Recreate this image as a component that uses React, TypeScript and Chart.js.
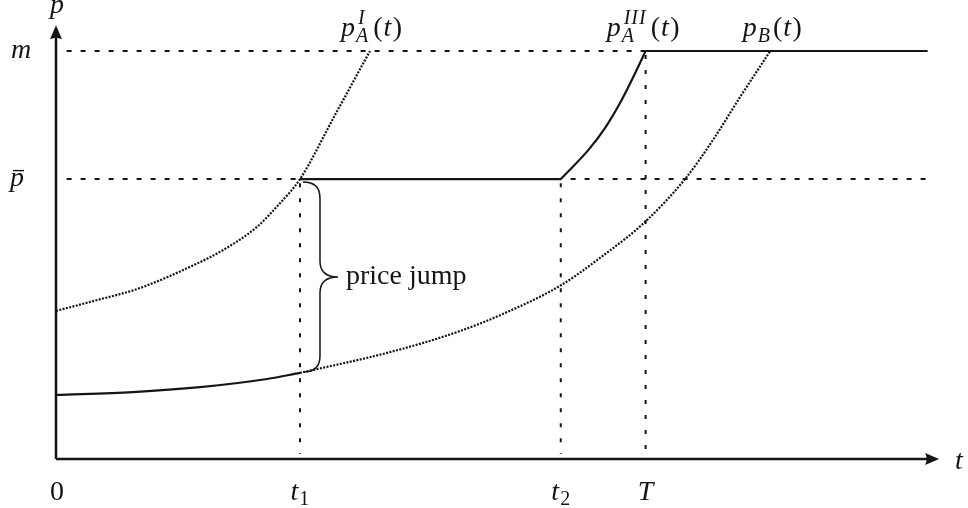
import React, { useEffect, useRef } from "react";
import { Chart, registerables } from "chart.js";

Chart.register(...registerables);

// Key abscissae / ordinates (t in model units, p normalized so that m = 1)
const T1 = 2.76;
const T2 = 5.71;
const T_END = 6.67;
const M_LEVEL = 1.0;
const P_BAR = 0.686;
const T_AXIS_MAX = 10;
const P_AXIS_MAX = 1.1;
const DASH_START = 0.12;
const DASH_END = 9.86;
const X_ARROW = 9.99;
const Y_ARROW = 1.063;

// p_A^I(t) (dotted)
const pAI_t = [0, 0.385, 0.95, 1.516, 1.889, 2.274, 2.534, 2.76, 3.156, 3.552];
const pAI_v = [0.363, 0.385, 0.419, 0.471, 0.512, 0.569, 0.627, 0.686, 0.843, 1.0];

// p_B(t) (dotted)
const pB_t = [2.76, 3.778, 4.536, 5.102, 5.713, 6.154, 6.663, 7.115, 7.432, 7.738, 8.08];
const pB_v = [0.211, 0.262, 0.311, 0.36, 0.426, 0.493, 0.581, 0.686, 0.782, 0.887, 1.0];

// equilibrium price path (solid): lower part before t1
const low_t = [0, 0.871, 1.629, 2.387, 2.76];
const low_v = [0.157, 0.164, 0.176, 0.196, 0.211];

// p_A^III(t) segment between t2 and T (solid)
const pA3_t = [5.71, 6.021, 6.21, 6.399, 6.55, 6.67];
const pA3_v = [0.686, 0.757, 0.811, 0.88, 0.945, 1.0];

const tickLabels = ["0", "t1", "t2", "T"];
const tickValues = [0, T1, T2, T_END];

const pts = (ts: number[], vs: number[]) => ts.map((t, i) => ({ x: t, y: vs[i] }));

const INK = "#151515";
const SERIF = '"Liberation Serif", serif';
const MAIN = 28;
const SCRIPT = 20;

type Part = { s: string; it?: boolean; size?: number; dy?: number; gap?: number; stack?: { sup?: string; sub?: string } };

function measureParts(ctx: CanvasRenderingContext2D, parts: Part[]) {
  let w = 0;
  for (const p of parts) {
    if (p.stack) {
      ctx.font = `italic ${SCRIPT}px ${SERIF}`;
      const a = p.stack.sup ? ctx.measureText(p.stack.sup).width + 2 : 0;
      const b = p.stack.sub ? ctx.measureText(p.stack.sub).width : 0;
      w += Math.max(a, b) + (p.gap || 0);
    } else {
      ctx.font = `${p.it ? "italic " : ""}${p.size || MAIN}px ${SERIF}`;
      w += ctx.measureText(p.s).width + (p.gap || 0);
    }
  }
  return w;
}

function drawParts(ctx: CanvasRenderingContext2D, parts: Part[], x: number, y: number, align: "left" | "center") {
  let cx = align === "center" ? x - measureParts(ctx, parts) / 2 : x;
  ctx.textAlign = "left";
  ctx.textBaseline = "alphabetic";
  ctx.fillStyle = INK;
  for (const p of parts) {
    if (p.stack) {
      ctx.font = `italic ${SCRIPT}px ${SERIF}`;
      (ctx as any).letterSpacing = "1px";
      let w = 0;
      if (p.stack.sup) {
        ctx.fillText(p.stack.sup, cx + 2, y - 12);
        w = Math.max(w, ctx.measureText(p.stack.sup).width + 2);
      }
      if (p.stack.sub) {
        ctx.fillText(p.stack.sub, cx, y + 6);
        w = Math.max(w, ctx.measureText(p.stack.sub).width);
      }
      (ctx as any).letterSpacing = "0px";
      cx += w + (p.gap || 0);
    } else {
      ctx.font = `${p.it ? "italic " : ""}${p.size || MAIN}px ${SERIF}`;
      ctx.fillText(p.s, cx, y + (p.dy || 0));
      cx += ctx.measureText(p.s).width + (p.gap || 0);
    }
  }
}

const fnArg: Part[] = [
  { s: "(", gap: 1 },
  { s: "t", it: true, gap: 1.5 },
  { s: ")" },
];

const annotationPlugin = {
  id: "annotations",
  afterDatasetsDraw(chart: any) {
    const ctx: CanvasRenderingContext2D = chart.ctx;
    const xs = chart.scales.x;
    const ys = chart.scales.y;
    const X = (v: number) => xs.getPixelForValue(v);
    const Y = (v: number) => ys.getPixelForValue(v);
    ctx.save();

    // arrowheads
    ctx.fillStyle = INK;
    const x0 = X(0), y0 = Y(0);
    const ty = Y(Y_ARROW);
    ctx.beginPath();
    ctx.moveTo(x0, ty);
    ctx.lineTo(x0 - 6, ty + 14);
    ctx.quadraticCurveTo(x0, ty + 11, x0 + 6, ty + 14);
    ctx.closePath();
    ctx.fill();
    const tx = X(X_ARROW);
    ctx.beginPath();
    ctx.moveTo(tx, y0);
    ctx.lineTo(tx - 14, y0 - 6);
    ctx.quadraticCurveTo(tx - 11, y0, tx - 14, y0 + 6);
    ctx.closePath();
    ctx.fill();

    // axis names
    drawParts(ctx, [{ s: "p", it: true }], x0 + 1, ty - 12, "center");
    drawParts(ctx, [{ s: "t", it: true }], tx + 16, y0 + 10, "left");

    // level labels
    drawParts(ctx, [{ s: "m", it: true }], 11, Y(M_LEVEL) + 7, "left");
    drawParts(ctx, [{ s: "p", it: true }], 10, Y(P_BAR) + 7, "left");
    ctx.strokeStyle = INK;
    ctx.lineWidth = 1.4;
    ctx.beginPath();
    ctx.moveTo(13, Y(P_BAR) - 8.5);
    ctx.lineTo(24, Y(P_BAR) - 8.5);
    ctx.stroke();

    // tick labels on the t axis
    const by = y0 + 41;
    tickLabels.forEach((lab, i) => {
      const px = X(tickValues[i]);
      let parts: Part[];
      if (lab === "0") parts = [{ s: "0" }];
      else if (lab === "T") parts = [{ s: "T", it: true }];
      else parts = [{ s: "t", it: true, gap: 1 }, { s: lab.slice(1), size: SCRIPT, dy: 5 }];
      drawParts(ctx, parts, px + (lab === "0" ? 1 : 0), by, "center");
    });

    // curve labels above m
    const ly = Y(M_LEVEL) - 15;
    drawParts(ctx, [{ s: "p", it: true, gap: 1 }, { s: "", stack: { sup: "I", sub: "A" }, gap: 4 }, ...fnArg], X(pAI_t[pAI_t.length - 1]) + 1, ly, "center");
    drawParts(ctx, [{ s: "p", it: true, gap: 1 }, { s: "", stack: { sup: "III", sub: "A" }, gap: 4 }, ...fnArg], X(T_END) - 4, ly, "center");
    drawParts(ctx, [{ s: "p", it: true, gap: 1 }, { s: "B", it: true, size: SCRIPT, dy: 6, gap: 3 }, ...fnArg], X(pB_t[pB_t.length - 1]) + 2, ly, "center");

    // brace for the price jump
    const bx = X(T1);
    const top = Y(P_BAR) + 3;
    const bot = Y(low_v[low_v.length - 1]) - 1;
    const mid = (top + bot) / 2;
    const sx = bx + 20;
    const tipx = bx + 38;
    ctx.lineWidth = 1.5;
    ctx.beginPath();
    ctx.moveTo(bx + 3, top);
    ctx.quadraticCurveTo(sx, top, sx, top + 16);
    ctx.lineTo(sx, mid - 16);
    ctx.quadraticCurveTo(sx, mid, tipx, mid);
    ctx.quadraticCurveTo(sx, mid, sx, mid + 16);
    ctx.lineTo(sx, bot - 16);
    ctx.quadraticCurveTo(sx, bot, bx + 3, bot);
    ctx.stroke();

    ctx.font = `${MAIN}px ${SERIF}`;
    ctx.fillStyle = INK;
    ctx.textAlign = "left";
    ctx.textBaseline = "alphabetic";
    ctx.fillText("price jump", tipx + 8, mid + 7);

    ctx.restore();
  },
};

export default function App() {
  const ref = useRef<HTMLCanvasElement | null>(null);

  useEffect(() => {
    if (!ref.current) return;
    const base = { clip: false, pointRadius: 0, borderColor: INK };
    const dotted = { ...base, borderWidth: 2.2, borderDash: [2, 1.4], borderCapStyle: "butt", cubicInterpolationMode: "monotone" };
    const solid = { ...base, borderWidth: 2.2, cubicInterpolationMode: "monotone" };
    const dashedH = { ...base, borderWidth: 2, borderDash: [5, 9], tension: 0 };
    const dashedV = { ...base, borderWidth: 2, borderDash: [4, 11], tension: 0 };
    const axis = { ...base, borderWidth: 2.5, tension: 0 };

    const chart = new Chart(ref.current, {
      type: "line",
      data: {
        datasets: [
          { ...dashedH, data: [{ x: DASH_START, y: M_LEVEL }, { x: DASH_END, y: M_LEVEL }] },
          { ...dashedH, data: [{ x: DASH_START, y: P_BAR }, { x: DASH_END, y: P_BAR }] },
          { ...dashedV, data: [{ x: T1, y: P_BAR - 0.01 }, { x: T1, y: 0.012 }] },
          { ...dashedV, data: [{ x: T2, y: P_BAR - 0.01 }, { x: T2, y: 0.012 }] },
          { ...dashedV, data: [{ x: T_END, y: M_LEVEL - 0.01 }, { x: T_END, y: 0.012 }] },
          { ...dotted, data: pts(pAI_t, pAI_v) },
          { ...dotted, data: pts(pB_t, pB_v) },
          { ...solid, data: pts(low_t, low_v) },
          { ...solid, tension: 0, cubicInterpolationMode: "default", data: [{ x: T1, y: P_BAR }, { x: T2, y: P_BAR }] },
          { ...solid, data: pts(pA3_t, pA3_v) },
          { ...solid, tension: 0, cubicInterpolationMode: "default", data: [{ x: T_END, y: M_LEVEL }, { x: DASH_END, y: M_LEVEL }] },
          { ...axis, data: [{ x: 0, y: 0 }, { x: X_ARROW - 0.1, y: 0 }] },
          { ...axis, data: [{ x: 0, y: 0 }, { x: 0, y: Y_ARROW - 0.02 }] },
        ] as any,
      },
      options: {
        animation: false,
        responsive: false,
        devicePixelRatio: 1,
        parsing: false as any,
        normalized: true,
        layout: { padding: { left: 56, right: 28, top: 10.2, bottom: 49 } },
        plugins: { legend: { display: false }, tooltip: { enabled: false } },
        elements: { line: { fill: false } },
        scales: {
          x: { type: "linear", min: 0, max: T_AXIS_MAX, display: false },
          y: { type: "linear", min: 0, max: P_AXIS_MAX, display: false },
        },
        events: [],
      } as any,
      plugins: [annotationPlugin],
    });
    return () => chart.destroy();
  }, []);

  return (
    <div style={{ position: "fixed", left: 0, top: 0, width: 968, height: 508, background: "#fff" }}>
      <canvas ref={ref} width={968} height={508} style={{ display: "block" }} />
    </div>
  );
}
